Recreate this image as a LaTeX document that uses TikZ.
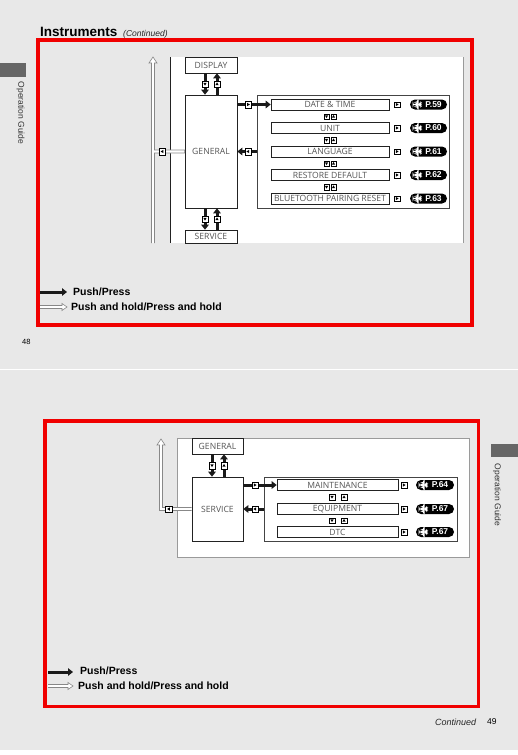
\documentclass[tikz,border=0pt]{standalone}
\usepackage{fontspec}
\setmainfont{Liberation Sans}
\newfontfamily\osans{Open Sans}
\usetikzlibrary{arrows.meta,calc}
\definecolor{bgc}{HTML}{E8E8E8}
\definecolor{tabc}{HTML}{666666}
\definecolor{boxc}{HTML}{222222}
\definecolor{txtc}{HTML}{555555}
\definecolor{holdc}{HTML}{888888}
\definecolor{arrc}{HTML}{1A1A1A}
\definecolor{panc}{HTML}{9A9A9A}
\definecolor{grpc}{HTML}{444444}
\definecolor{redc}{HTML}{F00000}
\tikzset{
 lbl/.style={draw=boxc, line width=0.6pt, fill=white, inner sep=0pt, font=\osans\fontsize{8.6}{9}\selectfont, text=txtc},
 mbox/.style={lbl, minimum width=52pt},
 mboxb/.style={lbl, minimum width=51pt},
 rowT/.style={lbl, minimum width=118pt, minimum height=11pt},
 rowB/.style={lbl, minimum width=121pt, minimum height=11pt},
 grpbox/.style={draw=grpc, line width=0.5pt, inner sep=0pt},
 icon/.style={draw=black, fill=white, line width=0.4pt, minimum size=#1, inner sep=0pt},
 icR/.style={icon=#1, path picture={\fill[black] (path picture bounding box.center) ++(-1.1,-1.6) -- ++(2.7,1.6) -- ++(-2.7,1.6) -- cycle;}},
 icR/.default=6.5pt,
 icL/.style={icon=#1, path picture={\fill[black] (path picture bounding box.center) ++(1.1,-1.6) -- ++(-2.7,1.6) -- ++(2.7,1.6) -- cycle;}},
 icL/.default=6.5pt,
 icD/.style={icon=#1, path picture={\fill[black] (path picture bounding box.center) ++(-1.6,-1.1) -- ++(3.2,0) -- ++(-1.6,2.7) -- cycle;}},
 icD/.default=6.5pt,
 icU/.style={icon=#1, path picture={\fill[black] (path picture bounding box.center) ++(-1.6,1.1) -- ++(3.2,0) -- ++(-1.6,-2.7) -- cycle;}},
 icU/.default=6.5pt,
 pill/.style={fill=black, rounded corners=5pt, minimum width=#1, minimum height=10pt, inner sep=0pt, text=white, font=\bfseries\fontsize{8.5}{9}\selectfont,
   path picture={\fill[white] (path picture bounding box.west) ++(2.5,-1.8) -- ++(6,0) -- ++(0,-2.6) -- ++(5.5,4.4) -- ++(-5.5,4.4) -- ++(0,-2.6) -- ++(-6,0) -- cycle;}},
 pill/.default=37pt,
 push/.style={draw=arrc, line width=3pt, -{Triangle[length=5pt,width=7.5pt]}},
 hold/.style={draw=holdc, line width=0.6pt, fill=white, line join=miter},
 legend/.style={font=\bfseries\fontsize{10.5}{12}\selectfont, anchor=west, inner sep=0pt},
 side/.style={font=\fontsize{8.5}{10}\selectfont, text=black!80, rotate=-90, inner sep=0pt},
 small/.style={font=\fontsize{7.5}{9}\selectfont, inner sep=0pt, anchor=west},
}
\begin{document}
\begin{tikzpicture}[x=1pt,y=-1pt]
\useasboundingbox (0,0) rectangle (518,755);
% background
\fill[bgc] (0,0) rectangle (518,750);
\fill[white] (0,750) rectangle (518,755);
\draw[white, line width=1pt] (0,369) -- (518,369);

%================ TOP PAGE =================
\node[anchor=base west, inner sep=0pt, font=\bfseries\fontsize{13.5}{15}\selectfont] (title) at (40,36.5) {Instruments};
\node[anchor=base west, inner sep=0pt, font=\itshape\fontsize{8.5}{10}\selectfont, text=black!85] (cont1) at (123,36.5) {(Continued)};
\fill[tabc] (0,63) rectangle (26,77);
\node[side] (og1) at (20.5,113) {Operation Guide};
\node[small] (pg48) at (22,342) {48};
\draw[redc, line width=3.5pt] (38.2,39.8) rectangle (471.8,325.2);

% panel
\fill[white] (170,57) rectangle (463,243);
\draw[boxc, line width=0.7pt] (170,57) -- (170,243);
\draw[panc, line width=0.6pt] (463,57) -- (463,243);

% main boxes
\node[mbox, minimum height=16pt] (disp) at (211,65) {DISPLAY};
\node[mbox, minimum height=113pt] (gen) at (211,151.5) {GENERAL};
\node[mbox, minimum height=13pt] (serv) at (211,236.5) {SERVICE};

% sub-menu group
\node[grpbox, minimum width=192pt, minimum height=113pt] (grp) at (353,151.5) {};
\node[rowT] (r1) at (330,104.5) {DATE \& TIME};
\node[rowT] (r2) at (330,128) {UNIT};
\node[rowT] (r3) at (330,151.5) {LANGUAGE};
\node[rowT] (r4) at (330,175) {RESTORE DEFAULT};
\node[rowT] (r5) at (330,198.5) {BLUETOOTH PAIRING RESET};
\foreach \y/\n in {116.5/1,140/2,163.5/3,187/4}{
  \node[icD=5.5pt] (td\n) at (326.5,\y) {};
  \node[icU=5.5pt] (tu\n) at (333.5,\y) {};
}
\foreach \y/\n/\p in {104.5/1/59,128/2/60,151.5/3/61,175/4/62,198.5/5/63}{
  \node[icR=5.5pt] (tr\n) at (397,\y) {};
  \node[pill] (tp\n) at (428.5,\y) {\hspace*{10pt}P.\p};
}

% push arrows
\draw[push] ([xshift=-6pt]disp.south) -- node[icD](a1){} ([xshift=-6pt]gen.north);
\draw[push] ([xshift=6pt]gen.north) -- node[icU](a2){} ([xshift=6pt]disp.south);
\draw[push] ([xshift=-6pt]gen.south) -- node[icD](a3){} ([xshift=-6pt]serv.north);
\draw[push] ([xshift=6pt]serv.north) -- node[icU](a4){} ([xshift=6pt]gen.south);
\draw[push] (gen.east |- r1.west) -- node[icR,pos=0.33](a5){} (r1.west);
\draw[push] (grp.west |- gen.east) -- node[icL,pos=0.45](a6){} (gen.east);

% hold arrow (T shape)
\coordinate (htop) at (153,57);
\coordinate (hbot) at (153,243);
\path[hold] ($(hbot)+(-1.5,0)$) -- ($(htop)+(-1.5,6)$) -- ($(htop)+(-4,6)$) -- (htop) -- ($(htop)+(4,6)$) -- ($(htop)+(1.5,6)$)
  -- ($(htop |- gen.west)+(1.5,-1.5)$) -- ($(gen.west)+(0,-1.5)$) -- ($(gen.west)+(0,1.5)$)
  -- ($(htop |- gen.west)+(1.5,1.5)$) -- ($(hbot)+(1.5,0)$);
\node[icL] (h1) at ([xshift=-22.5pt]gen.west) {};

% legend
\coordinate (l1a) at (40,292); \coordinate (l1b) at (67,292);
\draw[push] (l1a) -- (l1b);
\node[legend] (lg1) at (73,292) {Push/Press};
\coordinate (l2a) at (40,307); \coordinate (l2b) at (67,307);
\path[hold] ($(l2a)+(0,-1.5)$) -- ($(l2b)+(-5,-1.5)$) -- ($(l2b)+(-5,-3.5)$) -- (l2b) -- ($(l2b)+(-5,3.5)$) -- ($(l2b)+(-5,1.5)$) -- ($(l2a)+(0,1.5)$);
\node[legend] (lg2) at (71,307) {Push and hold/Press and hold};

%================ BOTTOM PAGE =================
\draw[redc, line width=3.5pt] (44.8,420.8) rectangle (478.5,706.5);
\fill[tabc] (491,444) rectangle (518,457);
\node[side] (og2) at (497,495) {Operation Guide};
\node[anchor=west, inner sep=0pt, font=\itshape\fontsize{9}{10}\selectfont, text=black!85] (cont2) at (435,722) {Continued};
\node[small, font=\fontsize{8.5}{10}\selectfont] (pg49) at (487,722) {49};

\filldraw[fill=white, draw=panc, line width=0.6pt] (177,438) rectangle (469,557);
\node[mboxb, minimum height=16pt] (gen2) at (217.5,446) {GENERAL};
\node[mboxb, minimum height=64pt] (serv2) at (217.5,509) {SERVICE};
\node[grpbox, minimum width=193pt, minimum height=64pt] (grp2) at (360.5,509) {};
\node[rowB] (m1) at (337.5,485) {MAINTENANCE};
\node[rowB] (m2) at (337.5,509) {EQUIPMENT};
\node[rowB] (m3) at (337.5,532) {DTC};
\foreach \y/\n in {497/1,520.5/2}{
  \node[icD=5.5pt] (bd\n) at (332,\y) {};
  \node[icU=5.5pt] (bu\n) at (344,\y) {};
}
\foreach \y/\n/\p in {485/1/64,509/2/67,532/3/67}{
  \node[icR=5.5pt] (br\n) at (404,\y) {};
  \node[pill=38pt] (bp\n) at (435,\y) {\hspace*{10pt}P.\p};
}
\draw[push] ([xshift=-5.5pt]gen2.south) -- node[icD](b1){} ([xshift=-5.5pt]serv2.north);
\draw[push] ([xshift=6.5pt]serv2.north) -- node[icU](b2){} ([xshift=6.5pt]gen2.south);
\draw[push] (serv2.east |- m1.west) -- node[icR,pos=0.35](b3){} (m1.west);
\draw[push] (grp2.west |- serv2.east) -- node[icL,pos=0.43](b4){} (serv2.east);

% hold arrow (L shape)
\coordinate (ltop) at (161,439);
\path[hold] ($(serv2.west)+(0,-1.5)$) -- ($(ltop |- serv2.west)+(1.5,-1.5)$) -- ($(ltop)+(1.5,6)$) -- ($(ltop)+(4,6)$) -- (ltop)
  -- ($(ltop)+(-4,6)$) -- ($(ltop)+(-1.5,6)$) -- ($(ltop |- serv2.west)+(-1.5,1.5)$) -- ($(serv2.west)+(0,1.5)$);
\node[icL] (h2) at ([xshift=-23pt]serv2.west) {};

% legend
\coordinate (k1a) at (48,672); \coordinate (k1b) at (73,672);
\draw[push] (k1a) -- (k1b);
\node[legend] (kg1) at (80,671) {Push/Press};
\coordinate (k2a) at (48,686); \coordinate (k2b) at (73,686);
\path[hold] ($(k2a)+(0,-1.5)$) -- ($(k2b)+(-5,-1.5)$) -- ($(k2b)+(-5,-3.5)$) -- (k2b) -- ($(k2b)+(-5,3.5)$) -- ($(k2b)+(-5,1.5)$) -- ($(k2a)+(0,1.5)$);
\node[legend] (kg2) at (78,686) {Push and hold/Press and hold};
\end{tikzpicture}
\end{document}
